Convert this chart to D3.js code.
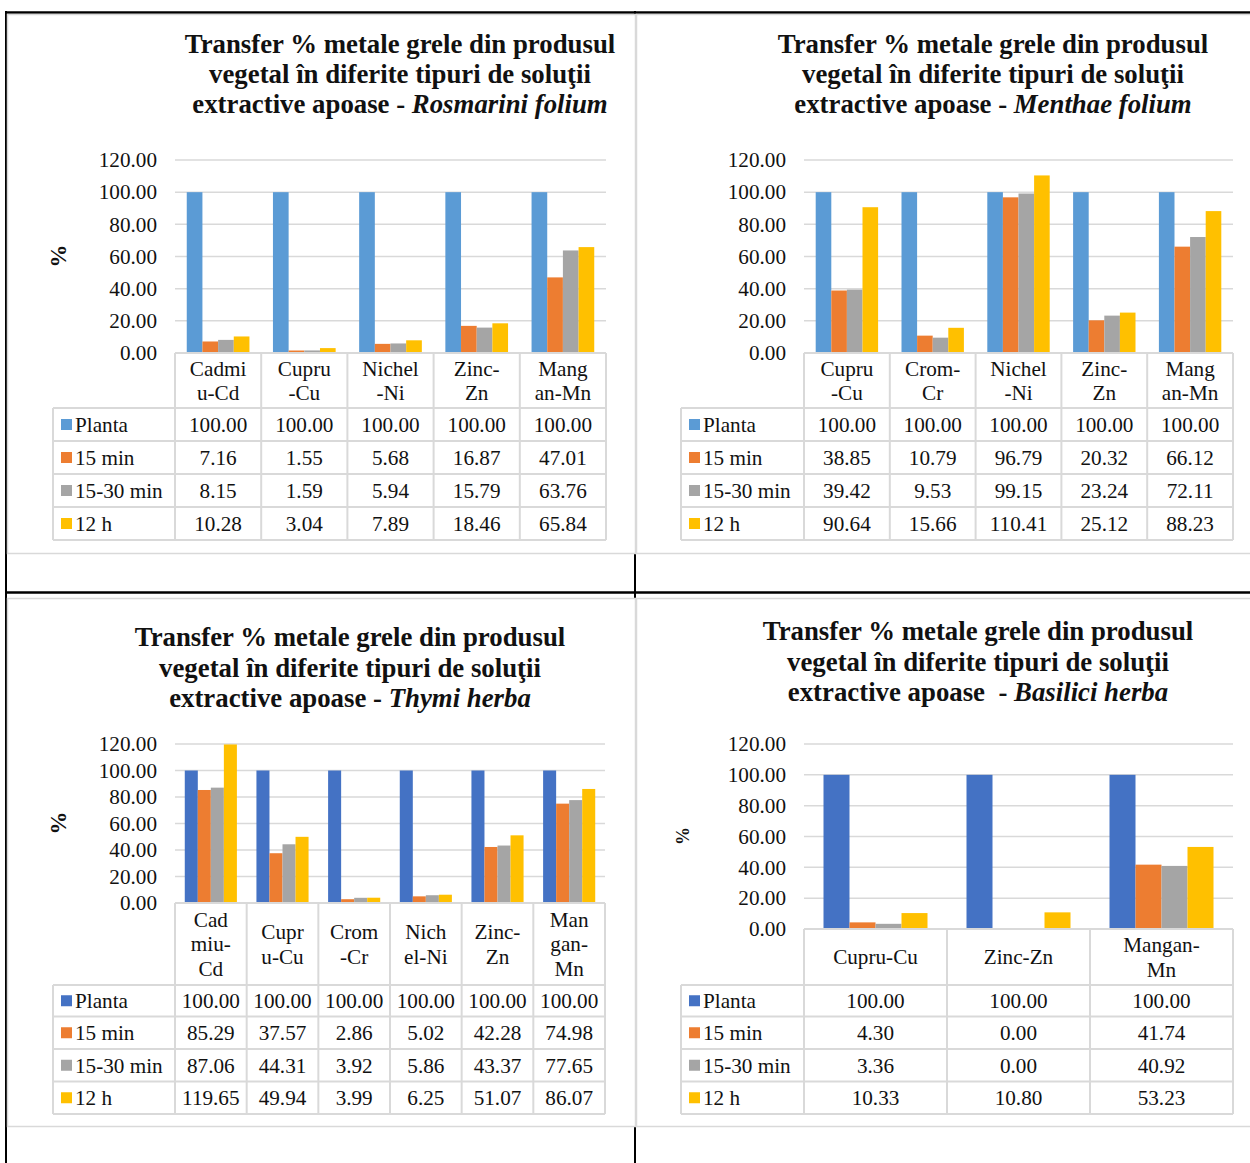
<!DOCTYPE html>
<html><head><meta charset="utf-8">
<script src="https://cdn.jsdelivr.net/npm/d3@7"></script>
<style>html,body{margin:0;padding:0;background:#fff;}svg{display:block;}</style>
</head><body>
<svg id="c" width="1250" height="1163"></svg>
<script>
// ---------- DATA ----------
const seriesNames = ["Planta", "15 min", "15-30 min", "12 h"];
const yTicks = [0, 20, 40, 60, 80, 100, 120];

// Rosmarini folium
const rosCategories = ["Cadmiu-Cd", "Cupru-Cu", "Nichel-Ni", "Zinc-Zn", "Mangan-Mn"];
const rosLabels = [["Cadmi", "u-Cd"], ["Cupru", "-Cu"], ["Nichel", "-Ni"], ["Zinc-", "Zn"], ["Mang", "an-Mn"]];
const rosPlanta = [100.00, 100.00, 100.00, 100.00, 100.00];
const ros15 = [7.16, 1.55, 5.68, 16.87, 47.01];
const ros1530 = [8.15, 1.59, 5.94, 15.79, 63.76];
const ros12h = [10.28, 3.04, 7.89, 18.46, 65.84];

// Menthae folium
const menCategories = ["Cupru-Cu", "Crom-Cr", "Nichel-Ni", "Zinc-Zn", "Mangan-Mn"];
const menLabels = [["Cupru", "-Cu"], ["Crom-", "Cr"], ["Nichel", "-Ni"], ["Zinc-", "Zn"], ["Mang", "an-Mn"]];
const menPlanta = [100.00, 100.00, 100.00, 100.00, 100.00];
const men15 = [38.85, 10.79, 96.79, 20.32, 66.12];
const men1530 = [39.42, 9.53, 99.15, 23.24, 72.11];
const men12h = [90.64, 15.66, 110.41, 25.12, 88.23];

// Thymi herba
const thyCategories = ["Cadmiu-Cd", "Cupru-Cu", "Crom-Cr", "Nichel-Ni", "Zinc-Zn", "Mangan-Mn"];
const thyLabels = [["Cad", "miu-", "Cd"], ["Cupr", "u-Cu"], ["Crom", "-Cr"], ["Nich", "el-Ni"], ["Zinc-", "Zn"], ["Man", "gan-", "Mn"]];
const thyPlanta = [100.00, 100.00, 100.00, 100.00, 100.00, 100.00];
const thy15 = [85.29, 37.57, 2.86, 5.02, 42.28, 74.98];
const thy1530 = [87.06, 44.31, 3.92, 5.86, 43.37, 77.65];
const thy12h = [119.65, 49.94, 3.99, 6.25, 51.07, 86.07];

// Basilici herba
const basCategories = ["Cupru-Cu", "Zinc-Zn", "Mangan-Mn"];
const basLabels = [["Cupru-Cu"], ["Zinc-Zn"], ["Mangan-", "Mn"]];
const basPlanta = [100.00, 100.00, 100.00];
const bas15 = [4.30, 0.00, 41.74];
const bas1530 = [3.36, 0.00, 40.92];
const bas12h = [10.33, 10.80, 53.23];

const titleLine1 = "Transfer % metale grele din produsul";
const titleLine2 = "vegetal în diferite tipuri de soluţii";

// ---------- LAYOUT ----------
const FONT = "'Liberation Serif','Times New Roman',serif";
const GRID = "#d9d9d9";
const TXT = "#111";
const FS = 21.2;
const orange = "#ED7D31", gray = "#A5A5A5", yellow = "#FFC000";

const charts = [
  { frame: [7.5, 14.5, 628, 539], titleX: 400, titleY: [44, 74, 104], prefix: "extractive apoase - ", species: "Rosmarini folium",
    plotL: 175, plotR: 606, yTop: 160, yBot: 353, tableL: 53, rows: [408, 441, 474, 507, 540],
    pct: [58, 256, 23], yLabelR: 157, blue: "#5B9BD5",
    cats: rosCategories, labels: rosLabels, series: [rosPlanta, ros15, ros1530, ros12h] },
  { frame: [636.5, 14.5, 620, 539], titleX: 993, titleY: [44, 74, 104], prefix: "extractive apoase - ", species: "Menthae folium",
    plotL: 804, plotR: 1233, yTop: 160, yBot: 353, tableL: 681, rows: [408, 441, 474, 507, 540],
    pct: null, yLabelR: 786, blue: "#5B9BD5",
    cats: menCategories, labels: menLabels, series: [menPlanta, men15, men1530, men12h] },
  { frame: [7.5, 598.5, 628, 528], titleX: 350, titleY: [637, 668, 698], prefix: "extractive apoase - ", species: "Thymi herba",
    plotL: 175, plotR: 605, yTop: 744, yBot: 903, tableL: 53, rows: [985, 1016.5, 1049, 1081.5, 1114],
    pct: [58, 823, 23], yLabelR: 157, blue: "#4472C4",
    cats: thyCategories, labels: thyLabels, series: [thyPlanta, thy15, thy1530, thy12h] },
  { frame: [636.5, 598.5, 620, 528], titleX: 978, titleY: [631, 662, 692], prefix: "extractive apoase\u00A0 - ", species: "Basilici herba",
    plotL: 804, plotR: 1233, yTop: 744, yBot: 929, tableL: 681, rows: [985, 1016.5, 1049, 1081.5, 1114],
    pct: [683, 836, 18], yLabelR: 786, blue: "#4472C4",
    cats: basCategories, labels: basLabels, series: [basPlanta, bas15, bas1530, bas12h] }
];

const svg = d3.select("#c");

// outer document table borders
const black = svg.append("g").attr("stroke", "#000").attr("fill", "none");
black.append("line").attr("x1", 5).attr("x2", 1250).attr("y1", 12.5).attr("y2", 12.5).attr("stroke-width", 2.5);
black.append("line").attr("x1", 5).attr("x2", 1250).attr("y1", 592.5).attr("y2", 592.5).attr("stroke-width", 2.5);
black.append("line").attr("x1", 6).attr("x2", 6).attr("y1", 11).attr("y2", 1163).attr("stroke-width", 2);
black.append("line").attr("x1", 635).attr("x2", 635).attr("y1", 11).attr("y2", 1163).attr("stroke-width", 2);

charts.forEach(ch => {
  const g = svg.append("g").style("font-family", FONT);
  const [fx, fy, fw, fh] = ch.frame;
  g.append("rect").attr("x", fx).attr("y", fy).attr("width", fw).attr("height", fh)
    .attr("fill", "#fff").attr("stroke", GRID).attr("stroke-width", 1.5);

  // title
  const t = g.append("g").attr("font-weight", "bold").attr("font-size", 26.8).attr("fill", TXT).attr("text-anchor", "middle");
  t.append("text").attr("x", ch.titleX).attr("y", ch.titleY[0]).attr("dy", "0.33em").text(titleLine1);
  t.append("text").attr("x", ch.titleX).attr("y", ch.titleY[1]).attr("dy", "0.33em").text(titleLine2);
  const t3 = t.append("text").attr("x", ch.titleX).attr("y", ch.titleY[2]).attr("dy", "0.33em").attr("xml:space", "preserve");
  t3.append("tspan").text(ch.prefix);
  t3.append("tspan").attr("font-style", "italic").text(ch.species);

  const colors = [ch.blue, orange, gray, yellow];
  const x = d3.scaleBand().domain(ch.cats).range([ch.plotL, ch.plotR]).paddingInner(0).paddingOuter(0);
  const xs = d3.scaleBand().domain(seriesNames).range([0, x.bandwidth()]).paddingInner(0).paddingOuter(0.75);
  const y = d3.scaleLinear().domain([0, 120]).range([ch.yBot, ch.yTop]);

  // gridlines
  g.append("g").selectAll("line").data(yTicks).join("line")
    .attr("x1", ch.plotL).attr("x2", ch.plotR)
    .attr("y1", d => y(d)).attr("y2", d => y(d))
    .attr("stroke", GRID).attr("stroke-width", 1.5);

  // y axis labels
  const ax = g.append("g").attr("transform", `translate(${ch.plotL},0)`)
    .call(d3.axisLeft(y).tickValues(yTicks).tickFormat(d3.format(".2f")).tickSize(0).tickPadding(ch.plotL - ch.yLabelR));
  ax.select(".domain").remove();
  ax.selectAll("text").attr("font-size", FS).attr("fill", TXT).style("font-family", FONT);

  // bars
  ch.series.forEach((vals, si) => {
    g.append("g").selectAll("rect").data(vals).join("rect")
      .attr("x", (d, i) => x(ch.cats[i]) + xs(seriesNames[si]))
      .attr("width", xs.bandwidth())
      .attr("y", d => y(d))
      .attr("height", d => y(0) - y(d))
      .attr("fill", colors[si]);
  });

  // % label
  if (ch.pct) {
    g.append("text").attr("transform", `translate(${ch.pct[0]},${ch.pct[1]}) rotate(-90)`)
      .attr("text-anchor", "middle").attr("dy", "0.35em").attr("font-weight", "bold")
      .attr("font-size", ch.pct[2]).attr("fill", TXT).text("%");
  }

  // data table
  const tb = g.append("g");
  const rows = ch.rows;
  const headTop = ch.yBot, headBot = rows[0];
  const colEdges = ch.cats.map(c => x(c)).concat([ch.plotR]);
  // header labels
  ch.labels.forEach((lines, i) => {
    const cx = x(ch.cats[i]) + x.bandwidth() / 2;
    const cy = (headTop + headBot) / 2;
    const gap = 24.7;
    lines.forEach((ln, k) => {
      tb.append("text").attr("x", cx).attr("y", cy + (k - (lines.length - 1) / 2) * gap)
        .attr("dy", "0.35em").attr("text-anchor", "middle").attr("font-size", FS).attr("fill", TXT).text(ln);
    });
  });
  // row content
  seriesNames.forEach((s, si) => {
    const cy = (rows[si] + rows[si + 1]) / 2;
    tb.append("rect").attr("x", ch.tableL + 8).attr("y", cy - 5.5).attr("width", 11).attr("height", 11).attr("fill", colors[si]);
    tb.append("text").attr("x", ch.tableL + 22).attr("y", cy).attr("dy", "0.35em")
      .attr("font-size", FS).attr("fill", TXT).text(s);
    ch.series[si].forEach((v, i) => {
      tb.append("text").attr("x", x(ch.cats[i]) + x.bandwidth() / 2).attr("y", cy).attr("dy", "0.35em")
        .attr("text-anchor", "middle").attr("font-size", FS).attr("fill", TXT).text(d3.format(".2f")(v));
    });
  });
  // table borders
  const lines = tb.append("g").attr("stroke", GRID).attr("stroke-width", 2).attr("fill", "none");
  lines.append("line").attr("x1", ch.plotL).attr("x2", ch.plotR).attr("y1", headTop).attr("y2", headTop);
  colEdges.forEach(cx => {
    lines.append("line").attr("x1", cx).attr("x2", cx).attr("y1", headTop).attr("y2", rows[rows.length - 1]);
  });
  rows.forEach(ry => {
    lines.append("line").attr("x1", ch.tableL).attr("x2", ch.plotR).attr("y1", ry).attr("y2", ry);
  });
  lines.append("line").attr("x1", ch.tableL).attr("x2", ch.tableL).attr("y1", rows[0]).attr("y2", rows[rows.length - 1]);
});
</script>
</body></html>
